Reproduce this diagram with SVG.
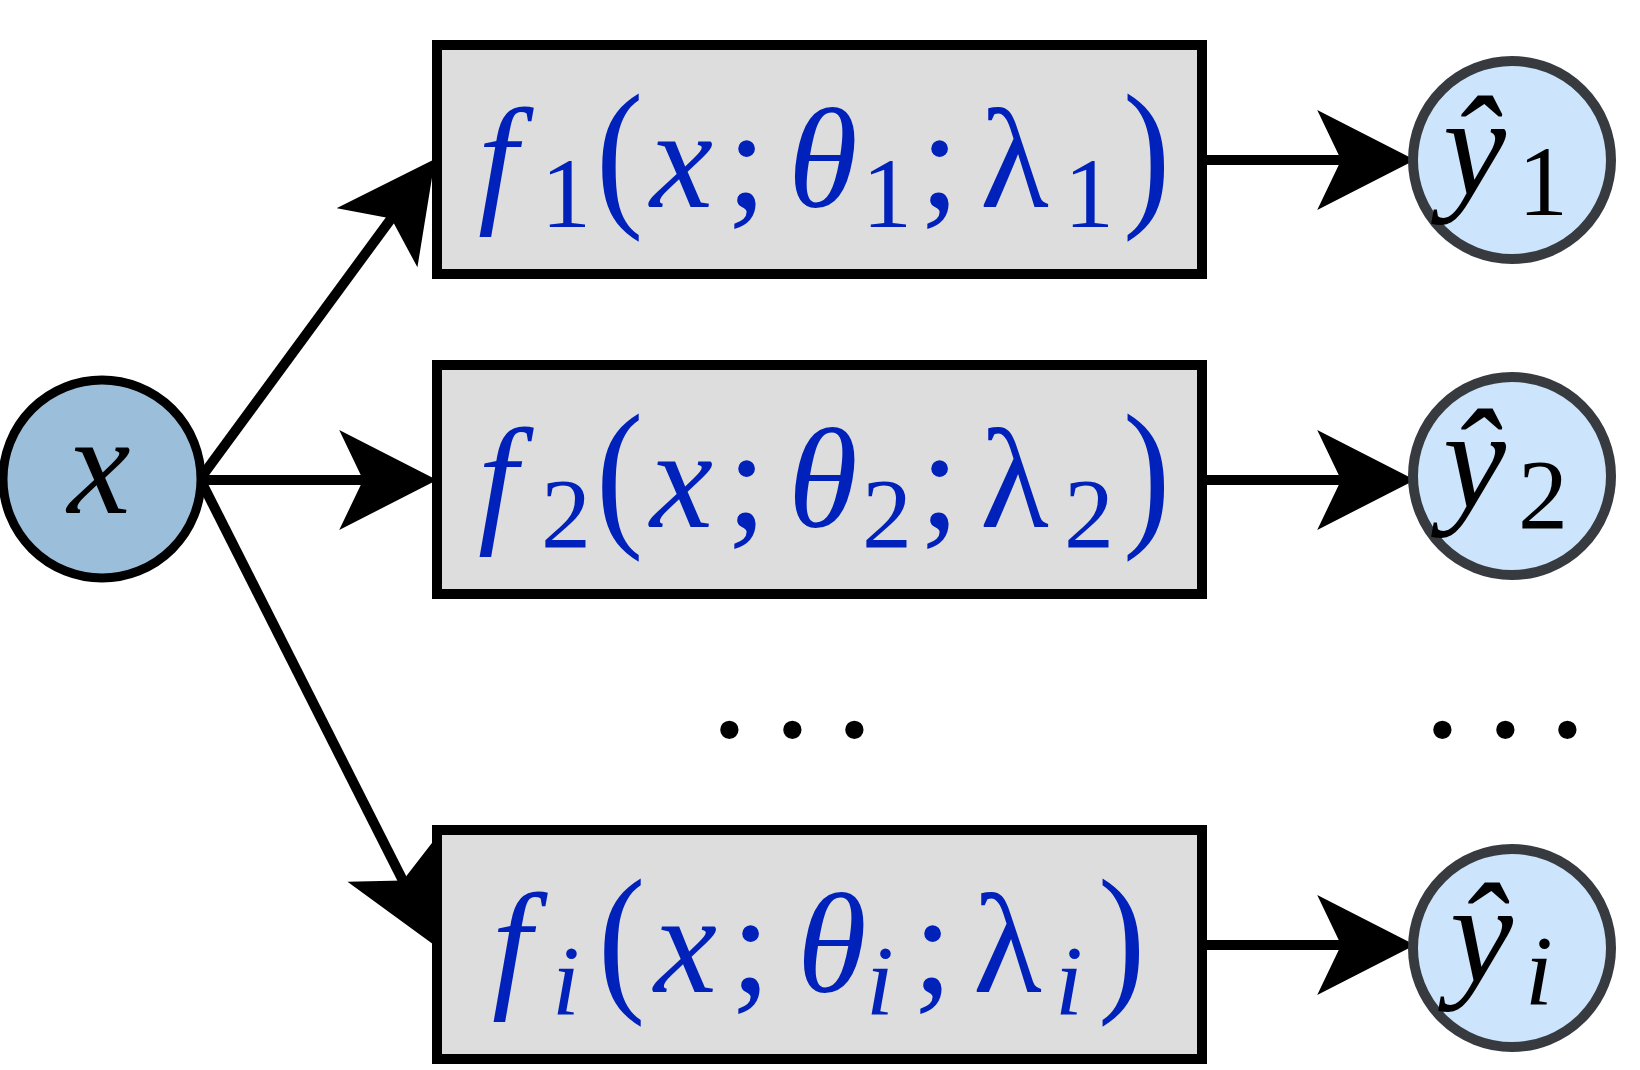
<svg xmlns="http://www.w3.org/2000/svg" width="1640" height="1070" viewBox="0 0 1640 1070">
<style>
.box{fill:#dddddd;stroke:#000;stroke-width:10}
.xin{fill:#9bbfdb;stroke:#000;stroke-width:9}
.yout{fill:#cce5fc;stroke:#373a3e;stroke-width:10}
.edge{stroke:#000;stroke-width:10;fill:none}
.m{font-family:"Liberation Serif","Times New Roman",serif;fill:#0022bb;font-size:142px}
.k{font-family:"Liberation Serif","Times New Roman",serif;fill:#000;font-size:142px}
.it{font-style:italic}
.sub{font-size:100px}
.dots{font-family:"Liberation Serif",serif;font-size:155px;fill:#000}
</style>
<defs>
<marker id="ah" markerUnits="userSpaceOnUse" markerWidth="100" markerHeight="100" viewBox="0 0 90 92" refX="32" refY="46" orient="auto">
<path d="M0,0 L90,46 L0,92 L22,46 Z" fill="#000"/>
</marker>
</defs>
<g id="connectors">
<line class="edge" x1="200" y1="479" x2="397.7" y2="209.7" marker-end="url(#ah)"/>
<line class="edge" x1="200" y1="480" x2="374" y2="480" marker-end="url(#ah)"/>
<line class="edge" x1="200" y1="479" x2="407.8" y2="890.3" marker-end="url(#ah)"/>
<line class="edge" x1="1207" y1="160" x2="1352" y2="160" marker-end="url(#ah)"/>
<line class="edge" x1="1207" y1="480" x2="1352" y2="480" marker-end="url(#ah)"/>
<line class="edge" x1="1207" y1="945" x2="1352" y2="945" marker-end="url(#ah)"/>
</g>
<g id="node-x">
<circle class="xin" cx="102" cy="479" r="99"/>
<text class="k it" x="99" y="513" text-anchor="middle" font-size="150">x</text>
</g>
<g id="node-f1">
<rect class="box" x="437" y="45" width="765" height="229"/>
<text class="m"><tspan class="it" x="478" y="207">f</tspan><tspan class="sub" x="541" y="227">1</tspan><tspan class="it" x="650" y="207">x</tspan><tspan x="727" y="207">;</tspan><tspan class="it" x="788" y="207">θ</tspan><tspan class="sub" x="862" y="227">1</tspan><tspan x="920" y="207">;</tspan><tspan x="980" y="207">λ</tspan><tspan class="sub" x="1064" y="227">1</tspan></text>
<text class="m" transform="translate(596,207) scale(1,1.15)">(</text>
<text class="m" transform="translate(1123,207) scale(1,1.15)">)</text>
</g>
<g id="node-f2">
<rect class="box" x="437" y="365" width="765" height="229"/>
<text class="m"><tspan class="it" x="478" y="527">f</tspan><tspan class="sub" x="541" y="547">2</tspan><tspan class="it" x="650" y="527">x</tspan><tspan x="727" y="527">;</tspan><tspan class="it" x="788" y="527">θ</tspan><tspan class="sub" x="862" y="547">2</tspan><tspan x="920" y="527">;</tspan><tspan x="980" y="527">λ</tspan><tspan class="sub" x="1064" y="547">2</tspan></text>
<text class="m" transform="translate(596,527) scale(1,1.15)">(</text>
<text class="m" transform="translate(1123,527) scale(1,1.15)">)</text>
</g>
<g id="node-fi">
<rect class="box" x="437" y="830" width="765" height="229"/>
<text class="m"><tspan class="it" x="492" y="992">f</tspan><tspan class="sub it" x="552" y="1014">i</tspan><tspan class="it" x="654" y="992">x</tspan><tspan x="731" y="992">;</tspan><tspan class="it" x="797" y="992">θ</tspan><tspan class="sub it" x="866" y="1014">i</tspan><tspan x="913" y="992">;</tspan><tspan x="973" y="992">λ</tspan><tspan class="sub it" x="1055" y="1014">i</tspan></text>
<text class="m" transform="translate(598,992) scale(1,1.15)">(</text>
<text class="m" transform="translate(1098,992) scale(1,1.15)">)</text>
</g>
<g id="node-y1">
<circle class="yout" cx="1512" cy="160" r="99"/>
<text class="k"><tspan class="it" x="1443" y="195">ŷ</tspan><tspan class="sub" x="1518" y="215">1</tspan></text>
</g>
<g id="node-y2">
<circle class="yout" cx="1512" cy="476" r="99"/>
<text class="k"><tspan class="it" x="1443" y="508">ŷ</tspan><tspan class="sub" x="1518" y="528">2</tspan></text>
</g>
<g id="node-yi">
<circle class="yout" cx="1512" cy="948" r="99"/>
<text class="k"><tspan class="it" x="1450" y="982">ŷ</tspan><tspan class="sub it" x="1525" y="1004">i</tspan></text>
</g>
<g id="ellipsis">
<text class="dots" x="710 773 835" y="737">...</text>
<text class="dots" x="1423 1486 1548" y="737">...</text>
</g>
</svg>
